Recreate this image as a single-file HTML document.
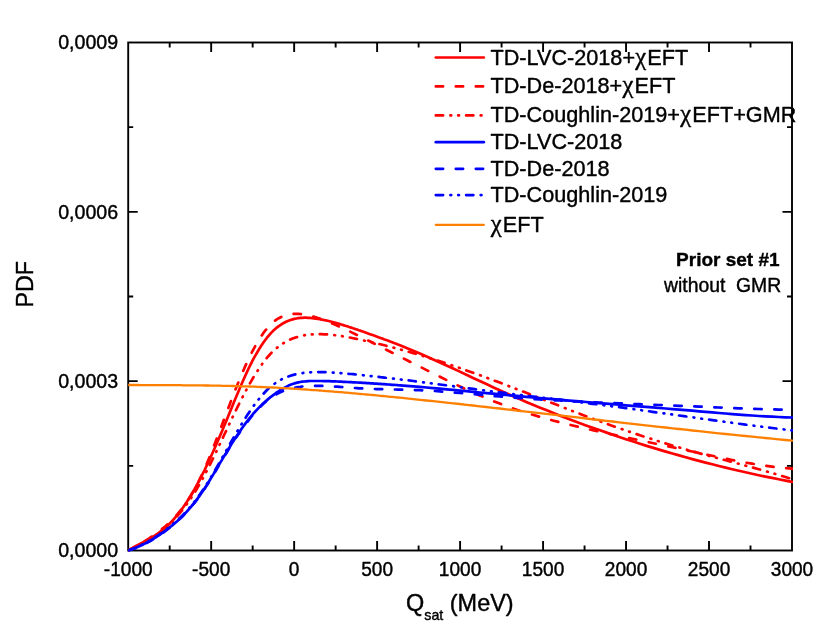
<!DOCTYPE html>
<html lang="en"><head><meta charset="utf-8"><title>PDF of Qsat</title>
<style>html,body{margin:0;padding:0;background:#fff;}body{width:830px;height:636px;overflow:hidden;}svg{display:block;will-change:transform;}text{font-family:"Liberation Sans",sans-serif;fill:#000;stroke:#000;stroke-width:0.40px;stroke-linejoin:round;}</style></head><body>
<svg width="830" height="636" viewBox="0 0 830 636">
<rect x="0" y="0" width="830" height="636" fill="#ffffff"/>
<filter id="soft" x="0" y="0" width="830" height="636" filterUnits="userSpaceOnUse"><feGaussianBlur stdDeviation="0.30"/></filter>
<g filter="url(#soft)">
<rect x="0" y="0" width="830" height="636" fill="#ffffff"/>
<g stroke="#000" stroke-width="1.90" fill="none" stroke-linecap="butt">
<rect x="128.20" y="42.50" width="663.80" height="508.00"/>
<path d="M169.69,550.50 v-5.00 M169.69,42.50 v5.00 M211.17,550.50 v-9.50 M211.17,42.50 v9.50 M252.66,550.50 v-5.00 M252.66,42.50 v5.00 M294.15,550.50 v-9.50 M294.15,42.50 v9.50 M335.64,550.50 v-5.00 M335.64,42.50 v5.00 M377.12,550.50 v-9.50 M377.12,42.50 v9.50 M418.61,550.50 v-5.00 M418.61,42.50 v5.00 M460.10,550.50 v-9.50 M460.10,42.50 v9.50 M501.59,550.50 v-5.00 M501.59,42.50 v5.00 M543.08,550.50 v-9.50 M543.08,42.50 v9.50 M584.56,550.50 v-5.00 M584.56,42.50 v5.00 M626.05,550.50 v-9.50 M626.05,42.50 v9.50 M667.54,550.50 v-5.00 M667.54,42.50 v5.00 M709.02,550.50 v-9.50 M709.02,42.50 v9.50 M750.51,550.50 v-5.00 M750.51,42.50 v5.00 M128.20,465.83 h5.00 M792.00,465.83 h-5.00 M128.20,381.17 h9.50 M792.00,381.17 h-9.50 M128.20,296.50 h5.00 M792.00,296.50 h-5.00 M128.20,211.83 h9.50 M792.00,211.83 h-9.50 M128.20,127.17 h5.00 M792.00,127.17 h-5.00"/>
</g>
<defs><clipPath id="clip"><rect x="128.2" y="42.5" width="665.0" height="509.0"/></clipPath></defs>
<g clip-path="url(#clip)" fill="none" stroke-width="2.70" stroke-linejoin="round" stroke-linecap="round">
<path d="M128.2,550.5 L130.2,549.4 L132.1,548.2 L134.1,547.1 L136.0,546.0 L138.0,544.9 L139.9,543.9 L141.9,542.9 L143.8,541.8 L145.8,540.8 L147.8,539.7 L149.7,538.6 L151.7,537.5 L153.6,536.3 L155.6,535.1 L157.5,533.8 L159.5,532.4 L161.4,530.9 L163.4,529.4 L165.4,527.7 L167.3,525.9 L169.3,524.0 L171.2,522.0 L173.2,519.9 L175.1,517.6 L177.1,515.3 L179.0,512.8 L181.0,510.2 L183.0,507.5 L184.9,504.7 L186.9,501.7 L188.8,498.7 L190.8,495.5 L192.7,492.3 L194.7,488.9 L196.6,485.4 L198.6,481.8 L200.5,478.0 L202.5,474.2 L204.5,470.3 L206.4,466.2 L208.4,462.1 L210.3,457.8 L212.3,453.5 L214.2,449.2 L216.2,444.7 L218.1,440.2 L220.1,435.6 L222.1,431.0 L224.0,426.3 L226.0,421.6 L227.9,416.9 L229.9,412.1 L231.8,407.4 L233.8,402.6 L235.7,397.9 L237.7,393.2 L239.7,388.5 L241.6,384.0 L243.6,379.5 L245.5,375.2 L247.5,370.9 L249.4,366.8 L251.4,362.9 L253.3,359.2 L255.3,355.6 L257.3,352.2 L259.2,348.9 L261.2,345.8 L263.1,342.9 L265.1,340.2 L267.0,337.7 L269.0,335.3 L270.9,333.1 L272.9,331.1 L274.9,329.3 L276.8,327.6 L278.8,326.1 L280.7,324.8 L282.7,323.5 L284.6,322.5 L286.6,321.5 L288.5,320.7 L290.5,320.0 L292.5,319.4 L294.4,318.9 L296.4,318.5 L298.3,318.2 L300.3,317.9 L302.2,317.8 L304.2,317.7 L306.1,317.7 L308.1,317.8 L310.1,317.9 L312.0,318.1 L314.0,318.3 L315.9,318.6 L317.9,318.9 L319.8,319.2 L321.8,319.6 L323.7,320.0 L325.7,320.4 L327.7,320.8 L329.6,321.3 L331.6,321.8 L333.5,322.3 L335.5,322.8 L337.4,323.4 L339.4,323.9 L341.3,324.5 L343.3,325.1 L345.2,325.7 L347.2,326.3 L349.2,327.0 L351.1,327.6 L353.1,328.3 L355.0,328.9 L357.0,329.6 L358.9,330.3 L360.9,330.9 L362.8,331.6 L364.8,332.3 L366.8,333.0 L368.7,333.7 L370.7,334.4 L372.6,335.1 L374.6,335.8 L376.5,336.5 L378.5,337.2 L380.4,337.9 L382.4,338.6 L384.4,339.4 L386.3,340.1 L388.3,340.8 L390.2,341.6 L392.2,342.3 L394.1,343.1 L396.1,343.8 L398.0,344.6 L400.0,345.3 L406.6,348.0 L413.3,350.7 L419.9,353.5 L426.6,356.4 L433.2,359.4 L439.9,362.4 L446.5,365.4 L453.2,368.5 L459.8,371.6 L466.4,374.8 L473.1,377.9 L479.7,381.0 L486.4,384.1 L493.0,387.2 L499.7,390.2 L506.3,393.2 L512.9,396.2 L519.6,399.1 L526.2,401.9 L532.9,404.7 L539.5,407.4 L546.2,410.1 L552.8,412.8 L559.5,415.4 L566.1,417.9 L572.7,420.4 L579.4,422.9 L586.0,425.4 L592.7,427.8 L599.3,430.1 L606.0,432.4 L612.6,434.7 L619.3,437.0 L625.9,439.2 L632.5,441.3 L639.2,443.5 L645.8,445.6 L652.5,447.6 L659.1,449.6 L665.8,451.6 L672.4,453.5 L679.1,455.4 L685.7,457.3 L692.3,459.1 L699.0,460.9 L705.6,462.6 L712.3,464.3 L718.9,466.0 L725.6,467.6 L732.2,469.2 L738.8,470.8 L745.5,472.3 L752.1,473.8 L758.8,475.2 L765.4,476.6 L772.1,477.9 L778.7,479.3 L785.4,480.6 L792.0,481.8" stroke="#ff0000"/>
<path d="M128.2,550.5 L130.2,549.5 L132.1,548.4 L134.1,547.3 L136.0,546.2 L138.0,545.1 L139.9,544.0 L141.9,542.9 L143.8,541.7 L145.8,540.5 L147.8,539.3 L149.7,538.0 L151.7,536.7 L153.6,535.4 L155.6,534.0 L157.5,532.6 L159.5,531.1 L161.4,529.5 L163.4,527.9 L165.4,526.3 L167.3,524.5 L169.3,522.7 L171.2,520.8 L173.2,518.9 L175.1,516.8 L177.1,514.6 L179.0,512.3 L181.0,509.9 L183.0,507.4 L184.9,504.7 L186.9,501.9 L188.8,498.9 L190.8,495.8 L192.7,492.6 L194.7,489.1 L196.6,485.5 L198.6,481.7 L200.5,477.7 L202.5,473.5 L204.5,469.1 L206.4,464.6 L208.4,459.9 L210.3,455.1 L212.3,450.2 L214.2,445.2 L216.2,440.1 L218.1,435.0 L220.1,429.8 L222.1,424.6 L224.0,419.4 L226.0,414.2 L227.9,409.0 L229.9,403.9 L231.8,398.8 L233.8,393.8 L235.7,388.9 L237.7,384.0 L239.7,379.2 L241.6,374.6 L243.6,370.0 L245.5,365.6 L247.5,361.4 L249.4,357.3 L251.4,353.3 L253.3,349.6 L255.3,346.0 L257.3,342.5 L259.2,339.3 L261.2,336.3 L263.1,333.4 L265.1,330.8 L267.0,328.4 L269.0,326.2 L270.9,324.2 L272.9,322.4 L274.9,320.8 L276.8,319.4 L278.8,318.2 L280.7,317.2 L282.7,316.4 L284.6,315.6 L286.6,315.1 L288.5,314.6 L290.5,314.3 L292.5,314.0 L294.4,313.9 L296.4,313.9 L298.3,313.9 L300.3,314.0 L302.2,314.2 L304.2,314.5 L306.1,314.8 L308.1,315.2 L310.1,315.7 L312.0,316.2 L314.0,316.8 L315.9,317.4 L317.9,318.0 L319.8,318.6 L321.8,319.3 L323.7,320.1 L325.7,320.8 L327.7,321.6 L329.6,322.4 L331.6,323.2 L333.5,324.0 L335.5,324.8 L337.4,325.7 L339.4,326.6 L341.3,327.5 L343.3,328.4 L345.2,329.3 L347.2,330.2 L349.2,331.2 L351.1,332.1 L353.1,333.1 L355.0,334.0 L357.0,335.0 L358.9,336.0 L360.9,336.9 L362.8,337.9 L364.8,338.9 L366.8,339.9 L368.7,340.8 L370.7,341.8 L372.6,342.8 L374.6,343.8 L376.5,344.8 L378.5,345.8 L380.4,346.7 L382.4,347.7 L384.4,348.7 L386.3,349.7 L388.3,350.7 L390.2,351.7 L392.2,352.7 L394.1,353.7 L396.1,354.7 L398.0,355.7 L400.0,356.6 L406.6,360.0 L413.3,363.4 L419.9,366.7 L426.6,370.1 L433.2,373.4 L439.9,376.7 L446.5,380.0 L453.2,383.2 L459.8,386.4 L466.4,389.5 L473.1,392.5 L479.7,395.4 L486.4,398.2 L493.0,401.0 L499.7,403.6 L506.3,406.0 L512.9,408.4 L519.6,410.7 L526.2,412.8 L532.9,414.8 L539.5,416.8 L546.2,418.7 L552.8,420.5 L559.5,422.2 L566.1,423.9 L572.7,425.5 L579.4,427.0 L586.0,428.6 L592.7,430.1 L599.3,431.6 L606.0,433.0 L612.6,434.5 L619.3,435.9 L625.9,437.4 L632.5,438.8 L639.2,440.2 L645.8,441.6 L652.5,443.0 L659.1,444.4 L665.8,445.8 L672.4,447.3 L679.1,448.7 L685.7,450.1 L692.3,451.5 L699.0,452.9 L705.6,454.4 L712.3,455.8 L718.9,457.2 L725.6,458.6 L732.2,460.0 L738.8,461.3 L745.5,462.6 L752.1,463.7 L758.8,464.8 L765.4,465.8 L772.1,466.7 L778.7,467.5 L785.4,468.1 L792.0,468.6" stroke="#ff0000" stroke-dasharray="7.3 12.7"/>
<path d="M128.2,550.5 L130.2,549.6 L132.1,548.6 L134.1,547.6 L136.0,546.7 L138.0,545.7 L139.9,544.7 L141.9,543.6 L143.8,542.6 L145.8,541.5 L147.8,540.4 L149.7,539.2 L151.7,538.0 L153.6,536.7 L155.6,535.4 L157.5,534.0 L159.5,532.6 L161.4,531.1 L163.4,529.5 L165.4,527.9 L167.3,526.2 L169.3,524.4 L171.2,522.5 L173.2,520.5 L175.1,518.4 L177.1,516.3 L179.0,514.0 L181.0,511.7 L183.0,509.2 L184.9,506.7 L186.9,504.0 L188.8,501.3 L190.8,498.4 L192.7,495.5 L194.7,492.4 L196.6,489.2 L198.6,485.9 L200.5,482.5 L202.5,479.0 L204.5,475.3 L206.4,471.6 L208.4,467.8 L210.3,463.9 L212.3,459.9 L214.2,455.9 L216.2,451.8 L218.1,447.7 L220.1,443.6 L222.1,439.5 L224.0,435.3 L226.0,431.1 L227.9,427.0 L229.9,422.8 L231.8,418.7 L233.8,414.7 L235.7,410.6 L237.7,406.7 L239.7,402.7 L241.6,398.9 L243.6,395.1 L245.5,391.4 L247.5,387.8 L249.4,384.3 L251.4,380.8 L253.3,377.5 L255.3,374.3 L257.3,371.2 L259.2,368.3 L261.2,365.4 L263.1,362.7 L265.1,360.2 L267.0,357.7 L269.0,355.5 L270.9,353.4 L272.9,351.4 L274.9,349.6 L276.8,347.9 L278.8,346.3 L280.7,344.9 L282.7,343.6 L284.6,342.4 L286.6,341.3 L288.5,340.3 L290.5,339.4 L292.5,338.6 L294.4,337.9 L296.4,337.3 L298.3,336.7 L300.3,336.2 L302.2,335.7 L304.2,335.3 L306.1,335.0 L308.1,334.7 L310.1,334.5 L312.0,334.4 L314.0,334.3 L315.9,334.2 L317.9,334.2 L319.8,334.2 L321.8,334.2 L323.7,334.3 L325.7,334.4 L327.7,334.5 L329.6,334.6 L331.6,334.8 L333.5,335.0 L335.5,335.3 L337.4,335.5 L339.4,335.8 L341.3,336.1 L343.3,336.4 L345.2,336.7 L347.2,337.1 L349.2,337.4 L351.1,337.8 L353.1,338.2 L355.0,338.6 L357.0,339.0 L358.9,339.4 L360.9,339.8 L362.8,340.2 L364.8,340.7 L366.8,341.1 L368.7,341.5 L370.7,342.0 L372.6,342.4 L374.6,342.9 L376.5,343.4 L378.5,343.8 L380.4,344.3 L382.4,344.8 L384.4,345.3 L386.3,345.8 L388.3,346.3 L390.2,346.8 L392.2,347.3 L394.1,347.8 L396.1,348.3 L398.0,348.9 L400.0,349.4 L406.6,351.2 L413.3,353.1 L419.9,355.1 L426.6,357.1 L433.2,359.2 L439.9,361.3 L446.5,363.5 L453.2,365.8 L459.8,368.0 L466.4,370.4 L473.1,372.7 L479.7,375.1 L486.4,377.6 L493.0,380.1 L499.7,382.6 L506.3,385.1 L512.9,387.7 L519.6,390.2 L526.2,392.8 L532.9,395.5 L539.5,398.1 L546.2,400.7 L552.8,403.3 L559.5,405.9 L566.1,408.5 L572.7,411.1 L579.4,413.6 L586.0,416.2 L592.7,418.7 L599.3,421.1 L606.0,423.5 L612.6,425.9 L619.3,428.2 L625.9,430.5 L632.5,432.8 L639.2,435.0 L645.8,437.2 L652.5,439.3 L659.1,441.4 L665.8,443.5 L672.4,445.5 L679.1,447.4 L685.7,449.4 L692.3,451.3 L699.0,453.1 L705.6,455.0 L712.3,456.8 L718.9,458.5 L725.6,460.3 L732.2,462.1 L738.8,463.8 L745.5,465.6 L752.1,467.4 L758.8,469.2 L765.4,471.1 L772.1,473.0 L778.7,475.0 L785.4,477.0 L792.0,479.1" stroke="#ff0000" stroke-dasharray="7.3 7.3 0.8 7.0 0.8 7.1"/>
<path d="M128.2,550.5 L130.2,549.9 L132.1,549.2 L134.1,548.4 L136.0,547.7 L138.0,546.8 L139.9,546.0 L141.9,545.1 L143.8,544.1 L145.8,543.1 L147.8,542.1 L149.7,541.0 L151.7,539.8 L153.6,538.6 L155.6,537.4 L157.5,536.2 L159.5,534.9 L161.4,533.5 L163.4,532.1 L165.4,530.7 L167.3,529.2 L169.3,527.7 L171.2,526.2 L173.2,524.6 L175.1,522.9 L177.1,521.2 L179.0,519.4 L181.0,517.5 L183.0,515.6 L184.9,513.6 L186.9,511.5 L188.8,509.3 L190.8,507.1 L192.7,504.7 L194.7,502.3 L196.6,499.8 L198.6,497.1 L200.5,494.4 L202.5,491.5 L204.5,488.6 L206.4,485.6 L208.4,482.5 L210.3,479.3 L212.3,476.1 L214.2,472.8 L216.2,469.6 L218.1,466.3 L220.1,462.9 L222.1,459.6 L224.0,456.3 L226.0,453.1 L227.9,449.8 L229.9,446.7 L231.8,443.5 L233.8,440.4 L235.7,437.4 L237.7,434.5 L239.7,431.6 L241.6,428.8 L243.6,426.0 L245.5,423.4 L247.5,420.8 L249.4,418.4 L251.4,416.0 L253.3,413.7 L255.3,411.5 L257.3,409.4 L259.2,407.4 L261.2,405.4 L263.1,403.6 L265.1,401.8 L267.0,400.1 L269.0,398.4 L270.9,396.8 L272.9,395.3 L274.9,393.8 L276.8,392.4 L278.8,391.1 L280.7,389.8 L282.7,388.7 L284.6,387.6 L286.6,386.6 L288.5,385.6 L290.5,384.8 L292.5,384.1 L294.4,383.4 L296.4,382.9 L298.3,382.4 L300.3,382.0 L302.2,381.7 L304.2,381.5 L306.1,381.3 L308.1,381.1 L310.1,381.0 L312.0,381.0 L314.0,381.0 L315.9,381.0 L317.9,381.0 L319.8,381.0 L321.8,381.0 L323.7,381.1 L325.7,381.1 L327.7,381.2 L329.6,381.2 L331.6,381.3 L333.5,381.4 L335.5,381.4 L337.4,381.5 L339.4,381.6 L341.3,381.7 L343.3,381.8 L345.2,381.9 L347.2,382.0 L349.2,382.1 L351.1,382.2 L353.1,382.3 L355.0,382.4 L357.0,382.5 L358.9,382.6 L360.9,382.7 L362.8,382.8 L364.8,382.9 L366.8,383.1 L368.7,383.2 L370.7,383.3 L372.6,383.4 L374.6,383.6 L376.5,383.7 L378.5,383.8 L380.4,383.9 L382.4,384.1 L384.4,384.2 L386.3,384.3 L388.3,384.5 L390.2,384.6 L392.2,384.8 L394.1,384.9 L396.1,385.0 L398.0,385.2 L400.0,385.3 L406.6,385.9 L413.3,386.4 L419.9,386.9 L426.6,387.5 L433.2,388.1 L439.9,388.7 L446.5,389.3 L453.2,389.9 L459.8,390.6 L466.4,391.2 L473.1,391.8 L479.7,392.5 L486.4,393.1 L493.0,393.7 L499.7,394.4 L506.3,395.0 L512.9,395.6 L519.6,396.2 L526.2,396.8 L532.9,397.4 L539.5,398.0 L546.2,398.6 L552.8,399.2 L559.5,399.7 L566.1,400.3 L572.7,400.9 L579.4,401.4 L586.0,402.0 L592.7,402.5 L599.3,403.1 L606.0,403.6 L612.6,404.2 L619.3,404.7 L625.9,405.3 L632.5,405.8 L639.2,406.3 L645.8,406.9 L652.5,407.4 L659.1,408.0 L665.8,408.5 L672.4,409.1 L679.1,409.6 L685.7,410.2 L692.3,410.7 L699.0,411.3 L705.6,411.8 L712.3,412.4 L718.9,413.0 L725.6,413.5 L732.2,414.1 L738.8,414.6 L745.5,415.1 L752.1,415.5 L758.8,416.0 L765.4,416.4 L772.1,416.7 L778.7,417.0 L785.4,417.3 L792.0,417.5" stroke="#0000ff"/>
<path d="M128.2,550.5 L130.2,549.9 L132.1,549.3 L134.1,548.6 L136.0,547.9 L138.0,547.1 L139.9,546.3 L141.9,545.4 L143.8,544.4 L145.8,543.4 L147.8,542.4 L149.7,541.3 L151.7,540.2 L153.6,539.0 L155.6,537.7 L157.5,536.5 L159.5,535.2 L161.4,533.8 L163.4,532.4 L165.4,531.0 L167.3,529.5 L169.3,528.0 L171.2,526.4 L173.2,524.8 L175.1,523.2 L177.1,521.4 L179.0,519.6 L181.0,517.8 L183.0,515.9 L184.9,513.9 L186.9,511.8 L188.8,509.6 L190.8,507.4 L192.7,505.0 L194.7,502.6 L196.6,500.1 L198.6,497.5 L200.5,494.7 L202.5,491.9 L204.5,489.0 L206.4,485.9 L208.4,482.9 L210.3,479.7 L212.3,476.5 L214.2,473.3 L216.2,470.0 L218.1,466.7 L220.1,463.4 L222.1,460.2 L224.0,456.9 L226.0,453.7 L227.9,450.5 L229.9,447.3 L231.8,444.2 L233.8,441.2 L235.7,438.2 L237.7,435.3 L239.7,432.4 L241.6,429.6 L243.6,426.9 L245.5,424.2 L247.5,421.7 L249.4,419.2 L251.4,416.7 L253.3,414.4 L255.3,412.1 L257.3,410.0 L259.2,407.9 L261.2,405.9 L263.1,404.0 L265.1,402.3 L267.0,400.6 L269.0,399.1 L270.9,397.6 L272.9,396.3 L274.9,395.1 L276.8,394.0 L278.8,393.0 L280.7,392.1 L282.7,391.2 L284.6,390.5 L286.6,389.8 L288.5,389.2 L290.5,388.7 L292.5,388.2 L294.4,387.7 L296.4,387.4 L298.3,387.0 L300.3,386.8 L302.2,386.5 L304.2,386.3 L306.1,386.1 L308.1,386.0 L310.1,385.9 L312.0,385.8 L314.0,385.8 L315.9,385.8 L317.9,385.8 L319.8,385.8 L321.8,385.9 L323.7,385.9 L325.7,386.0 L327.7,386.1 L329.6,386.2 L331.6,386.3 L333.5,386.4 L335.5,386.6 L337.4,386.7 L339.4,386.8 L341.3,387.0 L343.3,387.1 L345.2,387.3 L347.2,387.4 L349.2,387.6 L351.1,387.7 L353.1,387.9 L355.0,388.0 L357.0,388.1 L358.9,388.3 L360.9,388.4 L362.8,388.5 L364.8,388.6 L366.8,388.7 L368.7,388.8 L370.7,388.9 L372.6,388.9 L374.6,389.0 L376.5,389.1 L378.5,389.1 L380.4,389.2 L382.4,389.2 L384.4,389.3 L386.3,389.3 L388.3,389.4 L390.2,389.4 L392.2,389.5 L394.1,389.5 L396.1,389.5 L398.0,389.6 L400.0,389.6 L406.6,389.8 L413.3,390.0 L419.9,390.2 L426.6,390.5 L433.2,390.9 L439.9,391.4 L446.5,391.9 L453.2,392.4 L459.8,393.0 L466.4,393.5 L473.1,394.1 L479.7,394.7 L486.4,395.4 L493.0,395.9 L499.7,396.5 L506.3,397.1 L512.9,397.6 L519.6,398.1 L526.2,398.5 L532.9,399.0 L539.5,399.4 L546.2,399.8 L552.8,400.2 L559.5,400.5 L566.1,400.9 L572.7,401.2 L579.4,401.6 L586.0,401.9 L592.7,402.2 L599.3,402.5 L606.0,402.8 L612.6,403.1 L619.3,403.3 L625.9,403.6 L632.5,403.9 L639.2,404.2 L645.8,404.4 L652.5,404.7 L659.1,405.0 L665.8,405.2 L672.4,405.5 L679.1,405.8 L685.7,406.1 L692.3,406.3 L699.0,406.6 L705.6,406.9 L712.3,407.2 L718.9,407.5 L725.6,407.7 L732.2,408.0 L738.8,408.3 L745.5,408.5 L752.1,408.8 L758.8,409.0 L765.4,409.2 L772.1,409.4 L778.7,409.6 L785.4,409.7 L792.0,409.8" stroke="#0000ff" stroke-dasharray="7.3 12.7"/>
<path d="M128.2,550.5 L130.2,549.8 L132.1,549.1 L134.1,548.3 L136.0,547.5 L138.0,546.6 L139.9,545.7 L141.9,544.8 L143.8,543.8 L145.8,542.8 L147.8,541.7 L149.7,540.6 L151.7,539.5 L153.6,538.3 L155.6,537.0 L157.5,535.8 L159.5,534.4 L161.4,533.1 L163.4,531.7 L165.4,530.2 L167.3,528.8 L169.3,527.2 L171.2,525.6 L173.2,524.0 L175.1,522.3 L177.1,520.6 L179.0,518.7 L181.0,516.9 L183.0,514.9 L184.9,512.9 L186.9,510.8 L188.8,508.6 L190.8,506.3 L192.7,503.9 L194.7,501.4 L196.6,498.9 L198.6,496.2 L200.5,493.5 L202.5,490.6 L204.5,487.6 L206.4,484.6 L208.4,481.5 L210.3,478.3 L212.3,475.0 L214.2,471.7 L216.2,468.3 L218.1,464.9 L220.1,461.5 L222.1,458.0 L224.0,454.6 L226.0,451.1 L227.9,447.6 L229.9,444.2 L231.8,440.7 L233.8,437.3 L235.7,434.0 L237.7,430.6 L239.7,427.3 L241.6,424.1 L243.6,421.0 L245.5,417.9 L247.5,414.8 L249.4,411.9 L251.4,409.0 L253.3,406.3 L255.3,403.6 L257.3,401.1 L259.2,398.6 L261.2,396.3 L263.1,394.1 L265.1,392.0 L267.0,390.0 L269.0,388.2 L270.9,386.5 L272.9,384.9 L274.9,383.5 L276.8,382.1 L278.8,380.9 L280.7,379.8 L282.7,378.8 L284.6,377.9 L286.6,377.1 L288.5,376.4 L290.5,375.7 L292.5,375.1 L294.4,374.6 L296.4,374.1 L298.3,373.7 L300.3,373.4 L302.2,373.1 L304.2,372.8 L306.1,372.6 L308.1,372.4 L310.1,372.3 L312.0,372.2 L314.0,372.2 L315.9,372.1 L317.9,372.1 L319.8,372.1 L321.8,372.1 L323.7,372.2 L325.7,372.2 L327.7,372.3 L329.6,372.4 L331.6,372.5 L333.5,372.6 L335.5,372.7 L337.4,372.9 L339.4,373.0 L341.3,373.2 L343.3,373.3 L345.2,373.5 L347.2,373.7 L349.2,373.9 L351.1,374.0 L353.1,374.2 L355.0,374.4 L357.0,374.6 L358.9,374.8 L360.9,375.0 L362.8,375.2 L364.8,375.5 L366.8,375.7 L368.7,375.9 L370.7,376.1 L372.6,376.3 L374.6,376.5 L376.5,376.7 L378.5,376.9 L380.4,377.2 L382.4,377.4 L384.4,377.6 L386.3,377.8 L388.3,378.0 L390.2,378.3 L392.2,378.5 L394.1,378.7 L396.1,379.0 L398.0,379.2 L400.0,379.4 L406.6,380.2 L413.3,381.0 L419.9,381.9 L426.6,382.7 L433.2,383.6 L439.9,384.5 L446.5,385.3 L453.2,386.2 L459.8,387.1 L466.4,388.0 L473.1,388.9 L479.7,389.8 L486.4,390.7 L493.0,391.5 L499.7,392.4 L506.3,393.2 L512.9,394.1 L519.6,394.9 L526.2,395.7 L532.9,396.5 L539.5,397.3 L546.2,398.1 L552.8,398.9 L559.5,399.7 L566.1,400.5 L572.7,401.3 L579.4,402.1 L586.0,403.0 L592.7,403.8 L599.3,404.6 L606.0,405.5 L612.6,406.4 L619.3,407.2 L625.9,408.1 L632.5,409.0 L639.2,409.9 L645.8,410.8 L652.5,411.8 L659.1,412.7 L665.8,413.6 L672.4,414.5 L679.1,415.5 L685.7,416.4 L692.3,417.3 L699.0,418.3 L705.6,419.2 L712.3,420.1 L718.9,421.0 L725.6,421.9 L732.2,422.8 L738.8,423.7 L745.5,424.6 L752.1,425.5 L758.8,426.3 L765.4,427.2 L772.1,428.0 L778.7,428.8 L785.4,429.6 L792.0,430.4" stroke="#0000ff" stroke-dasharray="7.3 7.3 0.8 7.0 0.8 7.1"/>
<path d="M128.2,385.0 L130.2,385.0 L132.1,385.0 L134.1,385.0 L136.0,385.0 L138.0,385.0 L139.9,385.1 L141.9,385.1 L143.8,385.1 L145.8,385.1 L147.8,385.1 L149.7,385.1 L151.7,385.1 L153.6,385.1 L155.6,385.1 L157.5,385.1 L159.5,385.1 L161.4,385.1 L163.4,385.2 L165.4,385.2 L167.3,385.2 L169.3,385.2 L171.2,385.2 L173.2,385.2 L175.1,385.2 L177.1,385.2 L179.0,385.2 L181.0,385.2 L183.0,385.3 L184.9,385.3 L186.9,385.3 L188.8,385.3 L190.8,385.3 L192.7,385.3 L194.7,385.4 L196.6,385.4 L198.6,385.4 L200.5,385.4 L202.5,385.4 L204.5,385.5 L206.4,385.5 L208.4,385.5 L210.3,385.6 L212.3,385.6 L214.2,385.6 L216.2,385.6 L218.1,385.7 L220.1,385.7 L222.1,385.8 L224.0,385.8 L226.0,385.8 L227.9,385.9 L229.9,385.9 L231.8,386.0 L233.8,386.0 L235.7,386.1 L237.7,386.1 L239.7,386.2 L241.6,386.3 L243.6,386.3 L245.5,386.4 L247.5,386.4 L249.4,386.5 L251.4,386.6 L253.3,386.7 L255.3,386.7 L257.3,386.8 L259.2,386.9 L261.2,387.0 L263.1,387.1 L265.1,387.2 L267.0,387.3 L269.0,387.3 L270.9,387.4 L272.9,387.5 L274.9,387.6 L276.8,387.7 L278.8,387.8 L280.7,388.0 L282.7,388.1 L284.6,388.2 L286.6,388.3 L288.5,388.4 L290.5,388.5 L292.5,388.6 L294.4,388.8 L296.4,388.9 L298.3,389.0 L300.3,389.1 L302.2,389.3 L304.2,389.4 L306.1,389.5 L308.1,389.7 L310.1,389.8 L312.0,390.0 L314.0,390.1 L315.9,390.2 L317.9,390.4 L319.8,390.5 L321.8,390.7 L323.7,390.8 L325.7,391.0 L327.7,391.1 L329.6,391.3 L331.6,391.4 L333.5,391.6 L335.5,391.8 L337.4,391.9 L339.4,392.1 L341.3,392.2 L343.3,392.4 L345.2,392.6 L347.2,392.7 L349.2,392.9 L351.1,393.1 L353.1,393.3 L355.0,393.4 L357.0,393.6 L358.9,393.8 L360.9,394.0 L362.8,394.1 L364.8,394.3 L366.8,394.5 L368.7,394.7 L370.7,394.9 L372.6,395.0 L374.6,395.2 L376.5,395.4 L378.5,395.6 L380.4,395.8 L382.4,396.0 L384.4,396.2 L386.3,396.4 L388.3,396.6 L390.2,396.8 L392.2,396.9 L394.1,397.1 L396.1,397.3 L398.0,397.5 L400.0,397.7 L406.6,398.4 L413.3,399.1 L419.9,399.8 L426.6,400.5 L433.2,401.2 L439.9,401.9 L446.5,402.6 L453.2,403.3 L459.8,404.0 L466.4,404.8 L473.1,405.5 L479.7,406.3 L486.4,407.0 L493.0,407.8 L499.7,408.5 L506.3,409.3 L512.9,410.0 L519.6,410.8 L526.2,411.6 L532.9,412.3 L539.5,413.1 L546.2,413.9 L552.8,414.6 L559.5,415.4 L566.1,416.2 L572.7,416.9 L579.4,417.7 L586.0,418.5 L592.7,419.3 L599.3,420.0 L606.0,420.8 L612.6,421.5 L619.3,422.3 L625.9,423.1 L632.5,423.8 L639.2,424.6 L645.8,425.3 L652.5,426.1 L659.1,426.8 L665.8,427.5 L672.4,428.3 L679.1,429.0 L685.7,429.7 L692.3,430.5 L699.0,431.2 L705.6,431.9 L712.3,432.6 L718.9,433.3 L725.6,434.0 L732.2,434.7 L738.8,435.4 L745.5,436.0 L752.1,436.7 L758.8,437.4 L765.4,438.0 L772.1,438.7 L778.7,439.3 L785.4,440.0 L792.0,440.6" stroke="#ff8000" stroke-width="2.30"/>
</g>
<text transform="translate(128.20,575.80) scale(1.0000,1.0150)" font-size="19.10" text-anchor="middle">-1000</text>
<text transform="translate(211.17,575.80) scale(1.0000,1.0150)" font-size="19.10" text-anchor="middle">-500</text>
<text transform="translate(294.15,575.80) scale(1.0000,1.0150)" font-size="19.10" text-anchor="middle">0</text>
<text transform="translate(377.12,575.80) scale(1.0000,1.0150)" font-size="19.10" text-anchor="middle">500</text>
<text transform="translate(460.10,575.80) scale(1.0000,1.0150)" font-size="19.10" text-anchor="middle">1000</text>
<text transform="translate(543.08,575.80) scale(1.0000,1.0150)" font-size="19.10" text-anchor="middle">1500</text>
<text transform="translate(626.05,575.80) scale(1.0000,1.0150)" font-size="19.10" text-anchor="middle">2000</text>
<text transform="translate(709.02,575.80) scale(1.0000,1.0150)" font-size="19.10" text-anchor="middle">2500</text>
<text transform="translate(792.00,575.80) scale(1.0000,1.0150)" font-size="19.10" text-anchor="middle">3000</text>
<text transform="translate(118.10,557.30) scale(1.0000,1.0600)" font-size="19.60" text-anchor="end">0,0000</text>
<text transform="translate(118.10,387.97) scale(1.0000,1.0600)" font-size="19.60" text-anchor="end">0,0003</text>
<text transform="translate(118.10,218.63) scale(1.0000,1.0600)" font-size="19.60" text-anchor="end">0,0006</text>
<text transform="translate(118.10,49.30) scale(1.0000,1.0600)" font-size="19.60" text-anchor="end">0,0009</text>
<text transform="translate(406.00,611.20) scale(1.0120,1.0000)" font-size="23.20" text-anchor="start">Q<tspan font-size="14.1" dy="8.4">sat</tspan><tspan dy="-8.4"> (MeV)</tspan></text>
<text transform="translate(32.50,284.30) rotate(-90)" font-size="23.30" text-anchor="middle">PDF</text>
<path d="M435.8,57.5 H483.8" stroke="#ff0000" stroke-width="2.70" fill="none" stroke-linecap="round"/>
<text transform="translate(490.50,64.50)" font-size="21.65" text-anchor="start">TD-LVC-2018+<tspan font-family="Liberation Serif" font-size="24.6" dx="0.3" letter-spacing="1.1">χ</tspan>EFT</text>
<path d="M435.8,86.4 H483.8" stroke="#ff0000" stroke-width="2.70" fill="none" stroke-linecap="round" stroke-dasharray="7.3 12.7"/>
<text transform="translate(490.50,93.40)" font-size="21.65" text-anchor="start">TD-De-2018+<tspan font-family="Liberation Serif" font-size="24.6" dx="0.3" letter-spacing="1.1">χ</tspan>EFT</text>
<path d="M435.8,115.4 H483.8" stroke="#ff0000" stroke-width="2.70" fill="none" stroke-linecap="round" stroke-dasharray="7.3 7.3 0.8 7.0 0.8 7.1"/>
<text transform="translate(490.50,122.40)" font-size="21.65" text-anchor="start">TD-Coughlin-2019+<tspan font-family="Liberation Serif" font-size="24.6" dx="0.3" letter-spacing="1.1">χ</tspan>EFT+GMR</text>
<path d="M435.8,142.2 H483.8" stroke="#0000ff" stroke-width="2.70" fill="none" stroke-linecap="round"/>
<text transform="translate(490.50,149.30)" font-size="21.65" text-anchor="start">TD-LVC-2018</text>
<path d="M435.8,168.8 H483.8" stroke="#0000ff" stroke-width="2.70" fill="none" stroke-linecap="round" stroke-dasharray="7.3 12.7"/>
<text transform="translate(490.50,175.90)" font-size="21.65" text-anchor="start">TD-De-2018</text>
<path d="M435.8,195.1 H483.8" stroke="#0000ff" stroke-width="2.70" fill="none" stroke-linecap="round" stroke-dasharray="7.3 7.3 0.8 7.0 0.8 7.1"/>
<text transform="translate(490.50,202.20)" font-size="21.65" text-anchor="start">TD-Coughlin-2019</text>
<path d="M435.8,224.8 H483.8" stroke="#ff8000" stroke-width="2.30" fill="none" stroke-linecap="round"/>
<text transform="translate(490.50,231.90)" font-size="21.65" text-anchor="start"><tspan font-family="Liberation Serif" font-size="24.6" dx="0.3" letter-spacing="1.1">χ</tspan>EFT</text>
<text transform="translate(779.60,265.50)" font-size="19.00" text-anchor="end" font-weight="bold">Prior set #1</text>
<text transform="translate(781.20,292.30)" font-size="19.35" text-anchor="end" xml:space="preserve">without  GMR</text>
</g>
</svg></body></html>
